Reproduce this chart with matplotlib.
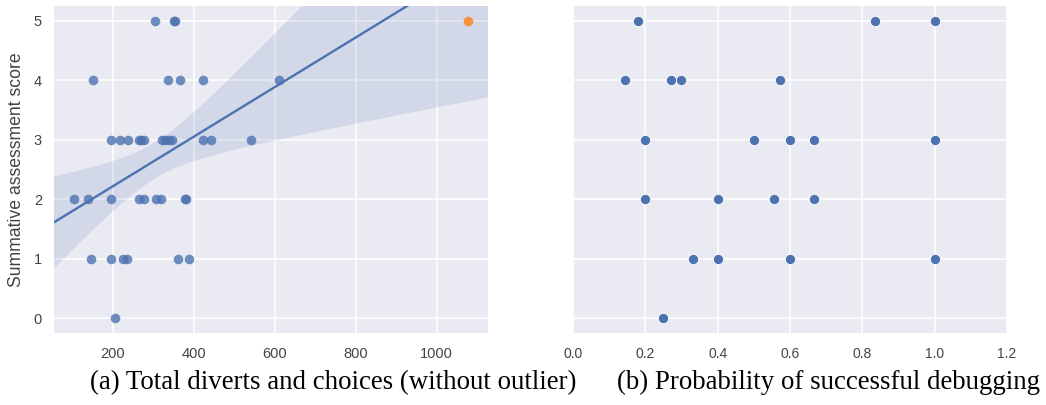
import numpy as np
import matplotlib.pyplot as plt

# (a) total diverts and choices vs summative score (outlier plotted apart)
diverts = [305, 351, 355,
           151, 338, 366, 422, 611,
           196, 218, 238, 265, 271, 278, 323, 329, 340, 347, 422, 444, 542,
           104, 140, 196, 265, 278, 307, 320, 378, 382,
           147, 196, 225, 236, 362, 388,
           207]
score_a = [5, 5, 5,
           4, 4, 4, 4, 4,
           3, 3, 3, 3, 3, 3, 3, 3, 3, 3, 3, 3, 3,
           2, 2, 2, 2, 2, 2, 2, 2, 2,
           1, 1, 1, 1, 1, 1,
           0]
outlier_x = [1078]
outlier_y = [5]

# (b) probability of successful debugging vs summative score
prob = [0.18, 0.835, 1.0,
        0.143, 0.272, 0.30, 0.571,
        0.20, 0.50, 0.60, 0.667, 1.0,
        0.20, 0.40, 0.556, 0.667,
        0.333, 0.40, 0.60, 1.0,
        0.25]
score_b = [5, 5, 5,
           4, 4, 4, 4,
           3, 3, 3, 3, 3,
           2, 2, 2, 2,
           1, 1, 1, 1,
           0]

xticks_a = [200, 400, 600, 800, 1000]
xticks_b = [0.0, 0.2, 0.4, 0.6, 0.8, 1.0, 1.2]
yticks = [0, 1, 2, 3, 4, 5]

caption_a = '(a) Total diverts and choices (without outlier)'
caption_b = '(b) Probability of successful debugging'

BLUE = '#4C72B0'
TXT = '#444444'

plt.rcParams['font.family'] = ['Liberation Sans', 'DejaVu Sans']
plt.rcParams['axes.facecolor'] = '#EAEAF2'
plt.rcParams['axes.edgecolor'] = 'white'
plt.rcParams['grid.color'] = 'white'
plt.rcParams['grid.linewidth'] = 1.1


def style_axes(ax, xsize):
    ax.grid(True)
    ax.set_axisbelow(True)
    for s in ax.spines.values():
        s.set_visible(False)
    ax.tick_params(axis='x', length=0, pad=10, labelsize=xsize, labelcolor=TXT)
    ax.tick_params(axis='y', length=0, pad=8.6, labelsize=10.5, labelcolor=TXT)


fig = plt.figure(figsize=(10.46, 4.05), dpi=100)
ax1 = fig.add_axes([0.0516, 0.1778, 0.4149, 0.8074])
ax2 = fig.add_axes([0.5478, 0.1778, 0.4149, 0.8074])

# left panel: scatter + linear fit with confidence band
x = np.array(diverts, dtype=float)
y = np.array(score_a, dtype=float)
ax1.scatter(x, y, s=48, color=BLUE, alpha=0.8, linewidths=0, zorder=3)
ax1.scatter(outlier_x, outlier_y, s=48, color='#FF7F0E', alpha=0.8,
            linewidths=0, zorder=3)
xlim = ax1.get_xlim()

slope, icpt = np.polyfit(x, y, 1)
n = len(x)
resid = y - (slope * x + icpt)
s_err = np.sqrt(np.sum(resid ** 2) / (n - 2))
sxx = np.sum((x - x.mean()) ** 2)
xs = np.linspace(xlim[0], xlim[1], 200)
fit = slope * xs + icpt
# band width matched to the bootstrapped band in the original
half = 1.6 * s_err * np.sqrt(1.0 / n + (xs - x.mean()) ** 2 / sxx)
ax1.fill_between(xs, fit - half, fit + half, color=BLUE, alpha=0.15,
                 linewidth=0, zorder=2)
ax1.plot(xs, fit, color=BLUE, lw=1.7, zorder=4)
ax1.set_xlim(xlim)
ax1.set_ylim(-0.25, 5.25)
ax1.set_xticks(xticks_a)
ax1.set_yticks(yticks)
ax1.set_ylabel('Summative assessment score', fontsize=12.7, color=TXT,
               labelpad=6.5)
style_axes(ax1, 10.5)

# right panel: plain scatter
ax2.scatter(prob, score_b, s=55, color=BLUE, edgecolors='white',
            linewidths=0.6, zorder=3)
ax2.set_xlim(0, 1.2)
ax2.set_ylim(-0.25, 5.25)
ax2.set_xticks(xticks_b)
ax2.set_xticklabels([f'{t:.1f}' for t in xticks_b])
ax2.set_yticks(yticks)
ax2.tick_params(labelleft=False)
style_axes(ax2, 10)

fig.text(0.086, 0.0395, caption_a, family=['Liberation Serif', 'DejaVu Serif'],
         fontsize=19.4, ha='left', va='baseline', color='black')
fig.text(0.590, 0.0395, caption_b, family=['Liberation Serif', 'DejaVu Serif'],
         fontsize=19.4, ha='left', va='baseline', color='black')

fig.savefig('out.png', dpi=100)
